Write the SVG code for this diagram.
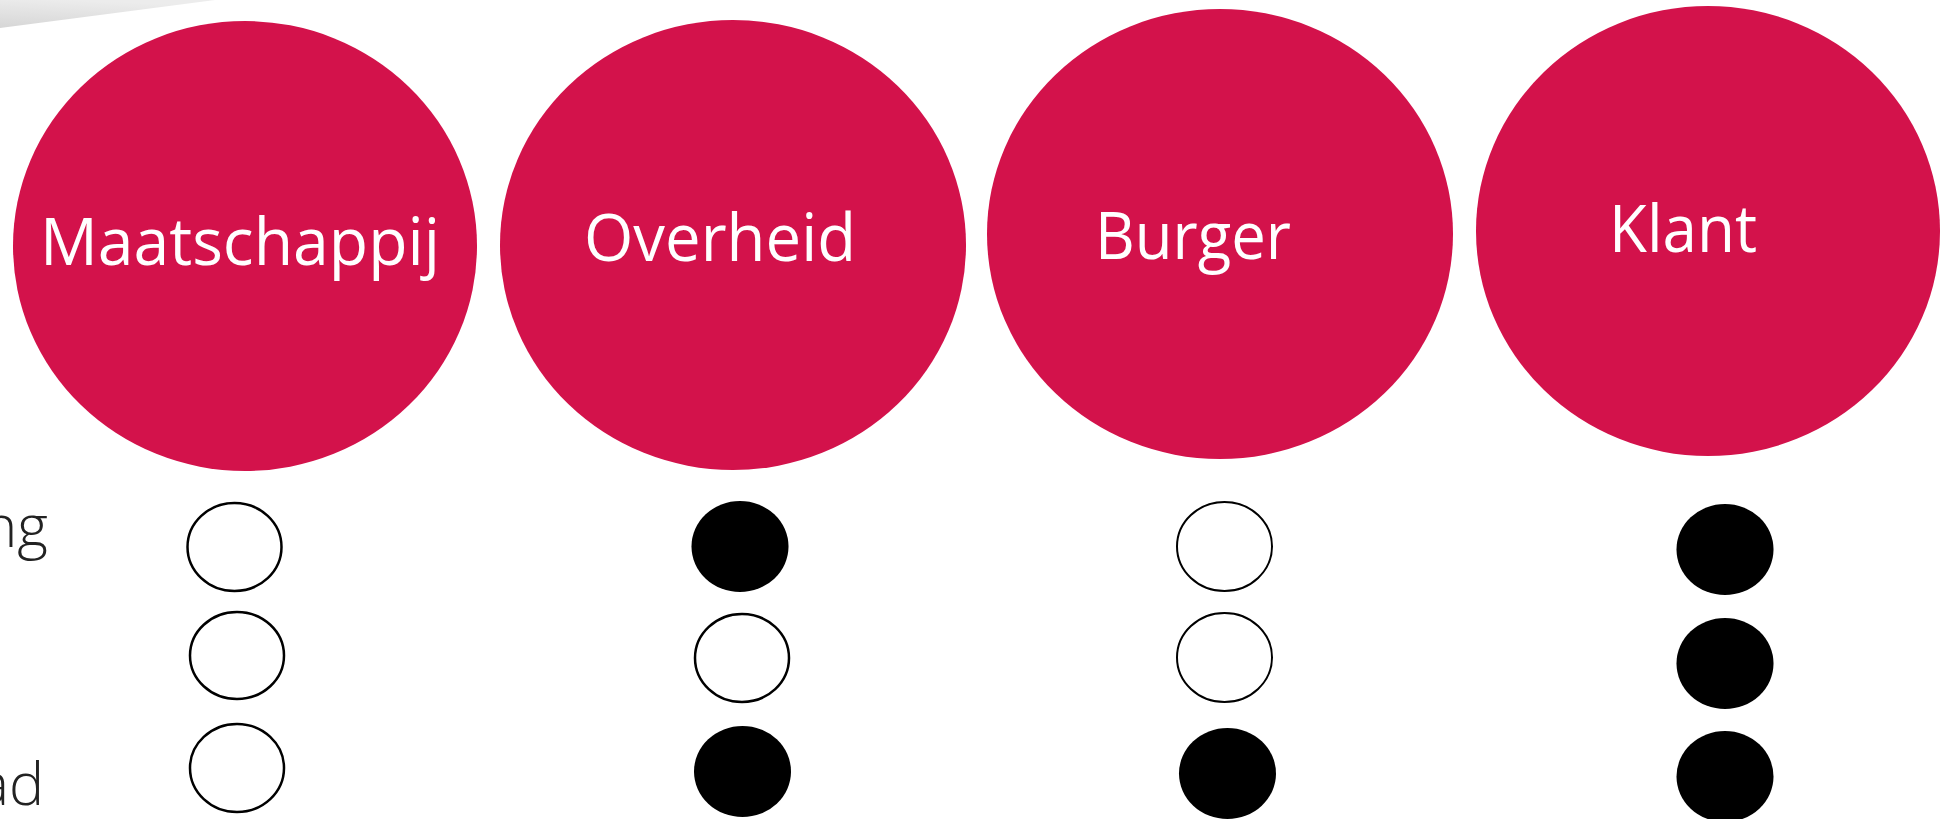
<svg xmlns="http://www.w3.org/2000/svg" width="1952" height="819" viewBox="0 0 1952 819">
<style>
.big{fill:#D3124B}
.lbl{fill:#ffffff;font-family:"Open Sans","Liberation Sans",sans-serif;font-size:66px}
.side{fill:#222222;font-family:"Open Sans","Liberation Sans",sans-serif;font-weight:300;font-size:59px}
.off{fill:#ffffff;stroke:#000000;stroke-width:2.5}
.on{fill:#000000}
</style>
<defs>
<linearGradient id="gr" x1="0" y1="1" x2="0.3" y2="0">
<stop offset="0" stop-color="#d6d6d6"/>
<stop offset="1" stop-color="#ececec"/>
</linearGradient>
</defs>
<rect width="1952" height="819" fill="#ffffff"/>
<polygon points="0,0 215,0 0,28" fill="url(#gr)"/>
<g id="side-labels">
<text class="side" x="48" y="547" text-anchor="end">ng</text>
<text class="side" x="44" y="805" text-anchor="end">ad</text>
</g>
<g id="maatschappij">
<ellipse class="big" cx="245" cy="246" rx="232" ry="225"/>
<text class="lbl" x="40" y="265" textLength="400" lengthAdjust="spacingAndGlyphs">Maatschappij</text>
</g>
<g id="overheid">
<ellipse class="big" cx="733" cy="245" rx="233" ry="225"/>
<text class="lbl" x="584" y="261" textLength="272" lengthAdjust="spacingAndGlyphs">Overheid</text>
</g>
<g id="burger">
<ellipse class="big" cx="1220" cy="234" rx="233" ry="225"/>
<text class="lbl" x="1095" y="259" textLength="196" lengthAdjust="spacingAndGlyphs">Burger</text>
</g>
<g id="klant">
<ellipse class="big" cx="1708" cy="231" rx="232" ry="225"/>
<text class="lbl" x="1609" y="252" textLength="148" lengthAdjust="spacingAndGlyphs">Klant</text>
</g>
<g id="maatschappij-dots">
<ellipse class="off" cx="234.5" cy="547" rx="47" ry="44"/>
<ellipse class="off" cx="237" cy="655.5" rx="47" ry="43.5"/>
<ellipse class="off" cx="237" cy="768" rx="47" ry="44"/>
</g>
<g id="overheid-dots">
<ellipse class="on" cx="740" cy="546.5" rx="48.5" ry="45.5"/>
<ellipse class="off" cx="742" cy="658" rx="47" ry="44"/>
<ellipse class="on" cx="742.5" cy="771.5" rx="48.5" ry="45.5"/>
</g>
<g id="burger-dots">
<ellipse class="off" cx="1224.5" cy="546.5" rx="47.5" ry="44.5" style="stroke-width:2"/>
<ellipse class="off" cx="1224.5" cy="657.5" rx="47.5" ry="44.5" style="stroke-width:2"/>
<ellipse class="on" cx="1227.5" cy="773.5" rx="48.5" ry="45.5"/>
</g>
<g id="klant-dots">
<ellipse class="on" cx="1725" cy="549.5" rx="48.5" ry="45.5"/>
<ellipse class="on" cx="1725" cy="663.5" rx="48.5" ry="45.5"/>
<ellipse class="on" cx="1725" cy="776.5" rx="48.5" ry="45.5"/>
</g>
<g id="connectors"/>
</svg>
